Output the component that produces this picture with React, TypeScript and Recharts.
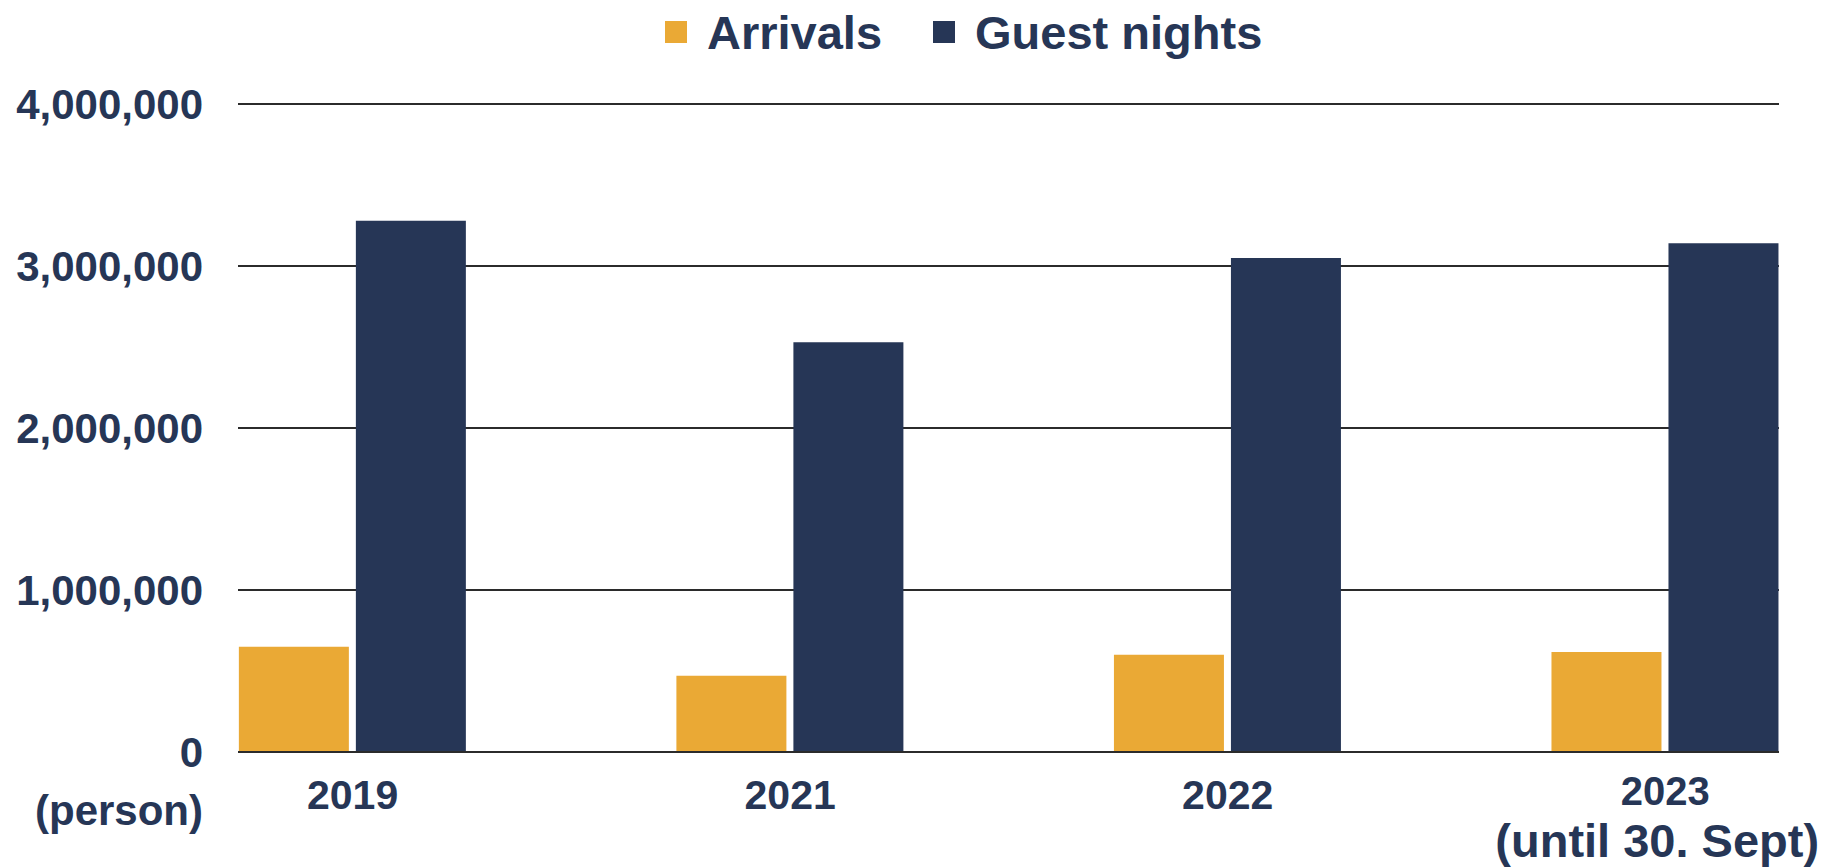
import React from "react";
import { Bar, BarChart, CartesianGrid, Legend, XAxis, YAxis } from "recharts";

const years = ["2019", "2021", "2022", "2023"];
const yearNotes = ["", "", "", "(until 30. Sept)"];
const arrivals = [650000, 470000, 600000, 617000];
const guestNights = [3280000, 2530000, 3050000, 3140000];
const yTicks = [0, 1000000, 2000000, 3000000, 4000000];

const ORANGE = "#EAA935";
const NAVY = "#263656";
const FONT = "'Liberation Sans', Arial, sans-serif";

const data = years.map((year, i) => ({
  pos: i,
  year,
  arrivals: arrivals[i],
  guestNights: guestNights[i],
}));

const YTick = ({ x, y, payload }: any) => {
  const v = payload.value as number;
  return (
    <g>
      <text x={x} y={y} dy={15} textAnchor="end" fill={NAVY} fontSize={42} fontWeight={700} fontFamily={FONT}>
        {v.toLocaleString("en-US")}
      </text>
      {v === 0 && (
        <text x={x} y={y} dy={73} textAnchor="end" fill={NAVY} fontSize={42} fontWeight={700} fontFamily={FONT}>
          (person)
        </text>
      )}
    </g>
  );
};

const XTick = ({ x, y, payload }: any) => {
  const i = payload.value as number;
  const note = yearNotes[i];
  return (
    <g>
      <text x={x} y={y} dy={note ? 53 : 57} textAnchor="middle" fill={NAVY} fontSize={note ? 40 : 41} fontWeight={700} fontFamily={FONT}>
        {years[i]}
      </text>
      {note && (
        <text x={x - 8} y={y} dy={105} textAnchor="middle" fill={NAVY} fontSize={47} fontWeight={700} fontFamily={FONT}>
          {note}
        </text>
      )}
    </g>
  );
};

const LegendContent = ({ payload }: any) => (
  <div style={{ display: "flex", alignItems: "center", height: 64, fontFamily: FONT, fontWeight: 700, fontSize: 47, color: NAVY }}>
    {(payload || []).map((item: any, i: number) => (
      <div key={item.value} style={{ display: "flex", alignItems: "center", marginLeft: i === 0 ? 0 : 51 }}>
        <span style={{ width: 22, height: 22, background: item.color, marginRight: 20, display: "inline-block" }} />
        <span>{item.value}</span>
      </div>
    ))}
  </div>
);

export default function App() {
  return (
    <div style={{ position: "absolute", left: 0, top: 0, background: "#fff" }}>
      <BarChart
        width={1837}
        height={868}
        data={data}
        margin={{ top: 40, right: 58, bottom: 0, left: 0 }}
        barGap={7}
      >
        <Legend
          verticalAlign="top"
          content={<LegendContent />}
          wrapperStyle={{ top: 0, left: 665, width: 760, height: 64 }}
        />
        <CartesianGrid vertical={false} stroke="#2b2b2b" strokeWidth={2} />
        <XAxis
          type="number"
          dataKey="pos"
          domain={[-0.262, 3.26]}
          ticks={[0, 1, 2, 3]}
          interval={0}
          height={116}
          tickSize={0}
          tickMargin={0}
          tickLine={false}
          axisLine={{ stroke: "#2b2b2b", strokeWidth: 2 }}
          tick={<XTick />}
        />
        <YAxis
          width={238}
          domain={[0, 4000000]}
          ticks={yTicks}
          interval={0}
          tickSize={0}
          tickMargin={35}
          tickLine={false}
          axisLine={false}
          tick={<YTick />}
        />
        <Bar dataKey="arrivals" name="Arrivals" fill={ORANGE} barSize={110} isAnimationActive={false} />
        <Bar dataKey="guestNights" name="Guest nights" fill={NAVY} barSize={110} isAnimationActive={false} />
      </BarChart>
    </div>
  );
}
